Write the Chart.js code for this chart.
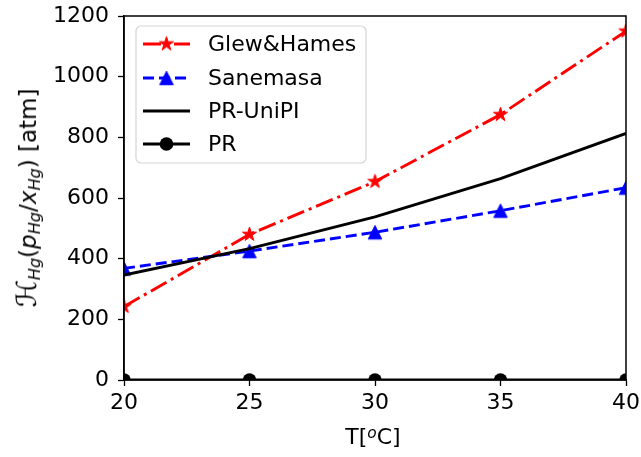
<!DOCTYPE html>
<html>
<head>
<meta charset="utf-8">
<script src="https://cdn.jsdelivr.net/npm/chart.js@4"></script>
<style>
  html, body { margin: 0; padding: 0; background: #fff; }
  #wrap { position: relative; width: 641px; height: 457px; overflow: hidden; }
  canvas { position: absolute; left: 0; top: 0; }
  .title { position: absolute; font-family: "DejaVu Sans", sans-serif; font-size: 22px; color: #000; white-space: nowrap; line-height: 1; }
  #ytitle { left: 28px; top: 198px; transform: translate(-50%, -50%) rotate(-90deg); font-size: 23px; }
  #xtitle { left: 373px; top: 437px; transform: translate(-50%, -50%); }
  .cal { font-size: 120%; font-style: italic; }
  sub { font-size: 70%; vertical-align: -0.25em; }
  sup { font-size: 70%; vertical-align: 0.45em; }
</style>
</head>
<body>
<div id="wrap">
  <canvas id="c" width="641" height="457"></canvas>
  <div class="title" id="ytitle"><span class="cal">ℋ</span><sub><i>Hg</i></sub>(<i>p</i><sub><i>Hg</i></sub>/<i>x</i><sub><i>Hg</i></sub>) [atm]</div>
  <div class="title" id="xtitle">T[<sup><i>o</i></sup>C]</div>
</div>
<script>
// ---- data ----
const temps = [20, 25, 30, 35, 40];
const glewHames = [242, 480, 654, 875, 1150];
const sanemasa = [368, 425, 487, 558, 634];
const prUniPI = [346, 433, 538, 664, 813];
const pr = [0, 0, 0, 0, 0];
const seriesNames = ['Glew&Hames', 'Sanemasa', 'PR-UniPI', 'PR'];
const xTickValues = [20, 25, 30, 35, 40];
const yTickValues = [0, 200, 400, 600, 800, 1000, 1200];

// ---- marker images ----
function starMarker(color, R) {
  const s = Math.ceil(R * 2 + 4);
  const c = document.createElement('canvas');
  c.width = s; c.height = s;
  const g = c.getContext('2d');
  const cx = s / 2, cy = s / 2, r = R * 0.381966;
  g.beginPath();
  for (let i = 0; i < 10; i++) {
    const ang = -Math.PI / 2 + i * Math.PI / 5;
    const rr = i % 2 === 0 ? R : r;
    const px = cx + rr * Math.cos(ang), py = cy + rr * Math.sin(ang);
    if (i === 0) g.moveTo(px, py); else g.lineTo(px, py);
  }
  g.closePath();
  g.fillStyle = color; g.fill();
  g.lineWidth = 1; g.strokeStyle = color; g.lineJoin = 'miter'; g.stroke();
  return c;
}
function triMarker(color, h) {
  const s = Math.ceil(h + 4);
  const c = document.createElement('canvas');
  c.width = s; c.height = s;
  const g = c.getContext('2d');
  const cx = s / 2, cy = s / 2, a = h / 2;
  g.beginPath();
  g.moveTo(cx, cy - a);
  g.lineTo(cx - a, cy + a);
  g.lineTo(cx + a, cy + a);
  g.closePath();
  g.fillStyle = color; g.fill();
  g.lineWidth = 1; g.strokeStyle = color; g.stroke();
  return c;
}
const starImg = starMarker('#ff0000', 7.4);
const triImg = triMarker('#0000ff', 13.5);

const LW = 2.9;
const dashDot = [18, 5, 3, 5];
const dashed = [11, 5];
const FONT = 22;

function pts(ys) { return temps.map((t, i) => ({ x: t, y: ys[i] })); }

const datasets = [
  { label: seriesNames[0], data: pts(glewHames), borderColor: '#ff0000', backgroundColor: '#ff0000',
    borderWidth: LW, borderDash: dashDot, pointStyle: starImg, pointRadius: 8, order: 4, clip: 0 },
  { label: seriesNames[1], data: pts(sanemasa), borderColor: '#0000ff', backgroundColor: '#0000ff',
    borderWidth: LW, borderDash: dashed, pointStyle: triImg, pointRadius: 8, order: 3, clip: 0 },
  { label: seriesNames[2], data: pts(prUniPI), borderColor: '#000000', backgroundColor: '#000000',
    borderWidth: LW, pointRadius: 0, order: 2, clip: 0 },
  { label: seriesNames[3], data: pts(pr), borderColor: '#000000', backgroundColor: '#000000',
    borderWidth: LW, pointStyle: 'circle', pointRadius: 6.8, pointBorderWidth: 0, order: 1, clip: 0 }
];

const frame = {
  id: 'frame',
  afterDatasetsDraw(chart) {
    const { ctx, chartArea: a } = chart;
    ctx.save();
    ctx.strokeStyle = '#000'; ctx.lineWidth = 1.5;
    ctx.strokeRect(a.left, a.top, a.right - a.left, a.bottom - a.top);
    ctx.restore();
  }
};

const legendBox = {
  id: 'legendBox',
  afterDraw(chart) {
    const ctx = chart.ctx;
    const x0 = 136, y0 = 26, w = 230, h = 137, rad = 5;
    ctx.save();
    ctx.beginPath();
    ctx.moveTo(x0 + rad, y0);
    ctx.arcTo(x0 + w, y0, x0 + w, y0 + h, rad);
    ctx.arcTo(x0 + w, y0 + h, x0, y0 + h, rad);
    ctx.arcTo(x0, y0 + h, x0, y0, rad);
    ctx.arcTo(x0, y0, x0 + w, y0, rad);
    ctx.closePath();
    ctx.fillStyle = 'rgba(255,255,255,0.8)';
    ctx.fill();
    ctx.strokeStyle = '#d5d5d5'; ctx.lineWidth = 1.2;
    ctx.stroke();

    const rows = [44, 78, 111, 144];
    const lx1 = 143, lx2 = 190, mx = (lx1 + lx2) / 2;
    const specs = [
      { color: '#ff0000', dash: dashDot, img: starImg },
      { color: '#0000ff', dash: dashed, img: triImg },
      { color: '#000000', dash: [], img: null },
      { color: '#000000', dash: [], circle: true }
    ];
    specs.forEach((s, i) => {
      const y = rows[i];
      ctx.beginPath();
      ctx.setLineDash(s.dash);
      ctx.strokeStyle = s.color; ctx.lineWidth = LW; ctx.lineCap = 'butt';
      ctx.moveTo(lx1, y); ctx.lineTo(lx2, y); ctx.stroke();
      ctx.setLineDash([]);
      if (s.img) ctx.drawImage(s.img, mx - s.img.width / 2, y - s.img.height / 2);
      if (s.circle) { ctx.beginPath(); ctx.arc(mx, y, 6.8, 0, Math.PI * 2); ctx.fillStyle = '#000'; ctx.fill(); }
      ctx.fillStyle = '#000';
      ctx.font = FONT + 'px "DejaVu Sans"';
      ctx.textBaseline = 'middle';
      ctx.textAlign = 'left';
      ctx.fillText(seriesNames[i], 208, y + 1);
    });
    ctx.restore();
  }
};

new Chart(document.getElementById('c'), {
  type: 'line',
  data: { datasets },
  options: {
    responsive: false,
    animation: false,
    events: [],
    layout: { padding: { top: 16, right: 15, left: 0, bottom: 0 } },
    plugins: { legend: { display: false }, tooltip: { enabled: false } },
    elements: { line: { tension: 0 } },
    scales: {
      x: {
        type: 'linear', min: 20, max: 40,
        afterFit(s) { s.height = 77; s.paddingLeft = 0; s.paddingRight = 0; },
        afterBuildTicks(s) { s.ticks = xTickValues.map(v => ({ value: v })); },
        grid: { drawOnChartArea: false, drawTicks: true, tickLength: 6, tickColor: '#000', tickWidth: 1.3 },
        border: { display: true, color: '#000', width: 1.5 },
        ticks: { color: '#000', font: { family: 'DejaVu Sans', size: FONT }, padding: 4, maxRotation: 0, autoSkip: false,
                 callback: v => String(v) }
      },
      y: {
        type: 'linear', min: 0, max: 1200,
        afterFit(s) { s.width = 124; s.paddingTop = 0; s.paddingBottom = 0; },
        afterBuildTicks(s) { s.ticks = yTickValues.map(v => ({ value: v })); },
        grid: { drawOnChartArea: false, drawTicks: true, tickLength: 6, tickColor: '#000', tickWidth: 1.3 },
        border: { display: true, color: '#000', width: 1.5 },
        ticks: { color: '#000', font: { family: 'DejaVu Sans', size: FONT }, padding: 9, autoSkip: false,
                 callback: v => String(v) }
      }
    }
  },
  plugins: [frame, legendBox]
});
</script>
</body>
</html>
